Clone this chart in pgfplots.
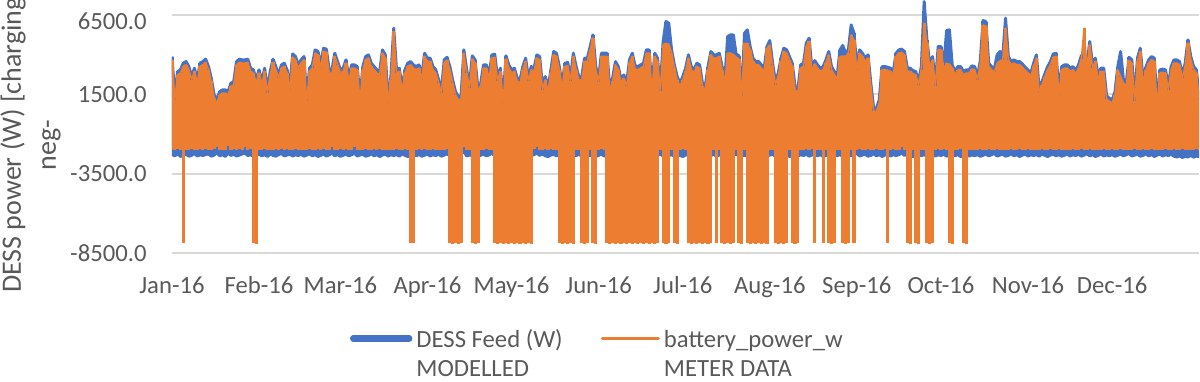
\documentclass[border=0pt]{standalone}
\usepackage{pgfplots}
\pgfplotsset{compat=1.18}
\usepackage{pgfplotstable}
\usepackage{fontspec}
\setmainfont{Carlito}
\definecolor{dessblue}{HTML}{4472C4}
\definecolor{dessorange}{HTML}{ED7D31}
\definecolor{gridgray}{HTML}{D9D9D9}
\definecolor{txtgray}{HTML}{595959}
\pgfplotstableread{
d bhi blo ohi olo
0 3875 -2300 3675 -1950
1 1355 -2380 1155 -2000
2 2930 -2250 2730 -1980
3 3035 -2420 2835 -2030
4 3455 -2330 3255 -7900
5 3560 -2280 3360 -1990
6 3245 -2400 3045 -2020
7 2615 -2350 2415 -1960
8 3140 -2220 2940 -2000
9 2405 -2390 2205 -2040
10 3455 -2310 3255 -1970
11 3560 -2360 3360 -2010
12 3710 -2300 3510 -1950
13 3245 -2250 3045 -2000
14 2510 -2400 2310 -2030
15 1460 -2330 1260 -1980
16 1145 -2180 945 -1800
17 1670 -2380 1470 -2000
18 1775 -2300 1575 -2020
19 1775 -2420 1575 -1990
20 1670 -2200 1470 -1750
21 2195 -2350 1995 -2000
22 2300 -2280 2100 -1960
23 3560 -2390 3360 -2040
24 3710 -2330 3510 -1980
25 3665 -2260 3465 -2010
26 3665 -2200 3465 -1800
27 3710 -2360 3510 -2000
28 3140 -2310 2940 -1970
29 3035 -2400 2835 -7900
30 2405 -2340 2205 -7950
31 3035 -2270 2835 -2000
32 2300 -2380 2100 -2020
33 3140 -2300 2940 -1950
34 1775 -2420 1575 -2030
35 2930 -2250 2730 -1990
36 3710 -2350 3510 -2010
37 3245 -2400 3045 -1970
38 2720 -2300 2520 -2000
39 3350 -2230 3150 -1960
40 3455 -2380 3255 -2040
41 3035 -2330 2835 -1980
42 1985 -2270 1785 -2000
43 4040 -2390 3840 -2020
44 3875 -2310 3675 -1950
45 3350 -2360 3150 -2000
46 3665 -2280 3465 -2030
47 3875 -2400 3675 -1990
48 1250 -2330 1050 -2010
49 3140 -2250 2940 -1970
50 3350 -2380 3150 -2000
51 4295 -2300 4095 -2040
52 4190 -2420 3990 -1980
53 3350 -2350 3150 -2000
54 4400 -2260 4200 -1950
55 4340 -2390 4140 -2020
56 3035 -2320 2835 -1990
57 3035 -2200 2835 -1800
58 4085 -2370 3885 -2000
59 3560 -2300 3360 -2030
60 3035 -2410 2835 -1980
61 3140 -2340 2940 -2010
62 3665 -2270 3465 -1970
63 2510 -2380 2310 -2000
64 3350 -2310 3150 -2040
65 3350 -2220 3150 -1850
66 3245 -2390 3045 -1990
67 1250 -2330 1050 -2000
68 3245 -2280 3045 -2020
69 3875 -2400 3675 -1950
70 3980 -2350 3780 -2000
71 3455 -2250 3255 -2030
72 3245 -2380 3045 -1980
73 3035 -2300 2835 -2010
74 2930 -2420 2730 -1970
75 4295 -2330 4095 -2000
76 3980 -2270 3780 -2040
77 1145 -2390 945 -1990
78 2615 -2310 2415 -2000
79 5660 -2360 5460 -2020
80 3035 -2300 2835 -1950
81 3140 -2400 2940 -2000
82 1880 -2250 1680 -2030
83 3035 -2350 2835 -1980
84 3455 -2420 3255 -2010
85 3560 -2330 3360 -7900
86 3350 -2280 3150 -7900
87 3245 -2380 3045 -2000
88 3350 -2300 3150 -1960
89 2615 -2400 2415 -2040
90 4085 -2340 3885 -1980
91 3770 -2270 3570 -2000
92 3770 -2390 3570 -2020
93 3245 -2310 3045 -1950
94 3035 -2360 2835 -2000
95 2405 -2280 2205 -2030
96 1775 -2400 1575 -1990
97 3665 -2330 3465 -2010
98 3830 -2250 3630 -1970
99 3245 -2380 3045 -7900
100 2405 -2300 2205 -7950
101 1670 -2420 1470 -7900
102 1355 -2350 1155 -7920
103 1400 -2260 1200 -7900
104 4295 -2100 4095 -1850
105 3035 -2390 2835 -2000
106 2090 -2320 1890 -2040
107 3920 -2370 3720 -7900
108 3665 -2300 3465 -7930
109 1880 -2410 1680 -7900
110 2195 -2340 1995 -1990
111 3350 -2270 3150 -2010
112 3350 -2380 3150 -1970
113 2720 -2310 2520 -2000
114 3980 -2220 3780 -2040
115 4020 -2390 3820 -7900
116 2510 -2330 2310 -7950
117 3140 -2280 2940 -7900
118 1145 -2400 945 -7920
119 3920 -2350 3720 -7900
120 3350 -2250 3150 -7940
121 3035 -2380 2835 -7900
122 3140 -2300 2940 -7910
123 2510 -2420 2310 -7900
124 2405 -2330 2205 -7950
125 3245 -2270 3045 -7900
126 3770 -2390 3570 -7920
127 2510 -2310 2310 -7900
128 3245 -2360 3045 -7930
129 3140 -2300 2940 -1950
130 3980 -2200 3780 -1850
131 3875 -2350 3675 -2000
132 1985 -2250 1785 -2030
133 2615 -2380 2415 -1980
134 1880 -2420 1680 -2010
135 3035 -2330 2835 -1970
136 4190 -2280 3990 -2000
137 4085 -2380 3885 -2040
138 3245 -2300 3045 -7900
139 2090 -2400 1890 -7950
140 3455 -2340 3255 -7900
141 3500 -2270 3300 -7920
142 2510 -2390 2310 -7900
143 4085 -2310 3885 -7940
144 3245 -2360 3045 -2000
145 2570 -2280 2370 -2020
146 2615 -2400 2415 -7900
147 3770 -2330 3570 -7930
148 3770 -2250 3570 -7900
149 4505 -2380 4305 -1990
150 5240 -2300 5050 -7900
151 3245 -2420 3045 -7920
152 2450 -2350 2250 -2000
153 4085 -2260 3885 -1970
154 4085 -2390 3885 -2040
155 4085 -2320 3885 -7900
156 1880 -2370 1680 -7950
157 2510 -2300 2310 -7900
158 3560 -2410 3360 -7920
159 3245 -2340 3045 -7900
160 2405 -2270 2205 -7930
161 2720 -2380 2520 -7900
162 2195 -2310 1995 -7910
163 3665 -2220 3465 -7900
164 4085 -2390 3885 -7950
165 3290 -2330 3090 -7900
166 3245 -2280 3045 -7920
167 3350 -2400 3150 -7900
168 3455 -2350 3255 -7940
169 4295 -2250 4095 -7900
170 4295 -2380 4095 -7910
171 1880 -2300 1680 -7900
172 4085 -2420 3885 -7950
173 3770 -2330 3570 -7900
174 1880 -2270 1680 -2000
175 4820 -2390 4620 -7900
176 6080 -2310 4700 -7930
177 5975 -2360 4650 -7900
178 4295 -2300 4095 -2020
179 3350 -2400 3150 -7900
180 2615 -2250 2415 -7920
181 2195 -2350 1995 -2000
182 2615 -2420 2415 -1960
183 3140 -2330 2940 -2040
184 3980 -2280 3780 -7900
185 3245 -2380 3045 -7950
186 3035 -2300 2835 -7900
187 3455 -2400 3255 -7920
188 3350 -2340 3150 -7900
189 2195 -2270 1995 -7930
190 1985 -2390 1785 -7900
191 3245 -2310 3045 -7910
192 4190 -2360 3990 -7900
193 3980 -2280 3780 -2000
194 3980 -2400 3780 -7900
195 4085 -2330 3885 -2010
196 3245 -2250 3045 -7900
197 2450 -2380 2250 -7940
198 5135 -2300 4085 -7900
199 5240 -2420 4085 -7920
200 5240 -2350 4000 -7900
201 4040 -2260 3840 -1990
202 3920 -2390 3720 -7900
203 1565 -2320 1365 -7950
204 5345 -2370 4700 -2000
205 5555 -2300 4700 -7900
206 4505 -2410 4305 -7920
207 3770 -2340 3570 -7900
208 3560 -2270 3360 -7930
209 3560 -2380 3360 -7900
210 3350 -2310 3150 -7910
211 3140 -2220 2940 -7900
212 4505 -2390 4400 -7950
213 4885 -2330 4600 -2000
214 3455 -2280 3255 -2030
215 2300 -2400 2100 -7900
216 2825 -2350 2625 -7920
217 3770 -2250 3570 -7900
218 4400 -2380 4200 -7940
219 4295 -2300 4095 -7900
220 3875 -2420 3675 -1990
221 3455 -2330 3255 -7900
222 1985 -2270 1785 -7930
223 1775 -2390 1575 -7900
224 3350 -2310 3150 -2000
225 3455 -2360 3255 -2040
226 4715 -2280 4515 -1980
227 5030 -2400 4830 -2010
228 3140 -2330 2940 -1970
229 3620 -2250 3420 -7900
230 3350 -2380 3150 -2000
231 3140 -2300 2940 -2020
232 3245 -2420 3045 -7900
233 3665 -2350 3465 -1990
234 4190 -2260 3990 -7900
235 3245 -2390 3045 -7920
236 2930 -2320 2730 -7900
237 2615 -2370 2415 -2000
238 4295 -2300 3875 -2030
239 4570 -2410 3900 -7900
240 4085 -2340 3885 -7950
241 4295 -2270 4095 -7900
242 5870 -2380 5240 -2000
243 5345 -2310 4900 -7900
244 3245 -2220 3045 -2010
245 4295 -2390 4095 -1970
246 4085 -2330 3885 -2000
247 3770 -2280 3570 -2040
248 3980 -2400 3780 -1980
249 2195 -2350 1995 -2000
250 620 -2250 420 -2020
251 620 -2380 420 -1950
252 1145 -2300 945 -2000
253 3245 -2420 3045 -2030
254 3245 -2330 3045 -1980
255 3200 -2270 3000 -7900
256 3140 -2390 2940 -2010
257 2930 -2310 2730 -1970
258 4085 -2360 3885 -2000
259 4295 -2300 4095 -2040
260 4340 -2200 4140 -1800
261 4190 -2350 3990 -2000
262 3140 -2250 2940 -7900
263 3140 -2380 2940 -7920
264 2990 -2420 2790 -2000
265 2930 -2330 2730 -7900
266 2300 -2280 2100 -7930
267 3245 -2380 3045 -2000
268 7340 -2300 5975 -2020
269 4925 -2400 4725 -7900
270 3350 -2340 3150 -7920
271 3875 -2270 3675 -7900
272 2195 -2390 1995 -2000
273 4505 -2310 4305 -1960
274 4505 -2360 4305 -2040
275 3290 -2280 3090 -1980
276 5515 -2400 3450 -2000
277 5555 -2330 3400 -7900
278 3350 -2250 3150 -7950
279 2930 -2380 2730 -2000
280 3245 -2300 3045 -2020
281 3245 -2420 3045 -1950
282 2930 -2350 2730 -7900
283 3035 -2260 2835 -7920
284 3035 -2390 2835 -2000
285 3290 -2320 3090 -2030
286 3245 -2370 3045 -1990
287 2615 -2300 2415 -2010
288 3620 -2410 3420 -1970
289 6140 -2340 5850 -2000
290 6080 -2270 5800 -2040
291 3455 -2380 3255 -1980
292 3245 -2310 3045 -2000
293 3080 -2220 2880 -2020
294 3980 -2390 3455 -1950
295 4190 -2330 3600 -2000
296 3875 -2280 3675 -2030
297 6290 -2400 5660 -1990
298 3875 -2350 3675 -2010
299 3560 -2250 3360 -1970
300 3665 -2380 3465 -2000
301 3560 -2300 3360 -2040
302 3560 -2420 3360 -1980
303 3410 -2330 3210 -2000
304 3200 -2270 3000 -2020
305 3035 -2390 2835 -1950
306 2825 -2310 2625 -2000
307 3455 -2360 3255 -2030
308 3980 -2300 3780 -1990
309 1775 -2400 1575 -2010
310 2300 -2250 2100 -1970
311 2785 -2350 2585 -2000
312 3245 -2420 3045 -2040
313 3560 -2330 3360 -1980
314 4040 -2280 3840 -2000
315 4085 -2380 3885 -2020
316 1670 -2300 1470 -1950
317 3245 -2400 3045 -2000
318 3350 -2340 3150 -2030
319 3350 -2270 3150 -1990
320 3140 -2390 2940 -2010
321 3245 -2310 3045 -1970
322 2990 -2360 2790 -2000
323 3350 -2280 3150 -2040
324 3920 -2400 3720 -1980
325 4085 -2330 5660 -2000
326 3350 -2250 3150 -2020
327 4820 -2380 4620 -1950
328 3350 -2300 3150 -2000
329 3770 -2420 3570 -2030
330 2615 -2350 2415 -1990
331 3140 -2260 2940 -2010
332 3140 -2390 2940 -1970
333 1400 -2320 1200 -2000
334 1250 -2370 1050 -2040
335 1145 -2300 945 -1980
336 1670 -2410 1470 -2000
337 3245 -2340 3045 -2020
338 4190 -2270 2600 -1950
339 2405 -2380 2205 -2000
340 2195 -2310 1995 -2030
341 3830 -2220 3630 -1990
342 3665 -2390 3465 -2010
343 1250 -2330 1050 -1970
344 3770 -2280 3570 -2000
345 4400 -2400 4200 -2040
346 2405 -2350 2205 -1980
347 3200 -2250 3000 -2000
348 3665 -2380 3465 -2020
349 3875 -2300 3675 -1950
350 3770 -2420 3570 -2000
351 900 -2330 700 -2030
352 3035 -2270 2835 -1990
353 3080 -2390 2880 -2010
354 3035 -2310 2835 -1970
355 1985 -2360 1785 -2000
356 3245 -2280 3045 -2040
357 3665 -2400 3465 -1980
358 3665 -2450 3465 -2000
359 3560 -2380 3360 -2020
360 2720 -2480 2520 -1950
361 3455 -2400 3255 -2000
362 4925 -2450 4725 -2030
363 3875 -2350 3675 -1990
364 3245 -2460 3045 -2010
365 3035 -2400 2835 -1970
366 1355 -2420 1155 -2000
}\dess

\begin{document}
\begin{tikzpicture}
\begin{axis}[
  at={(0,0)}, anchor=south west,
  scale only axis, width=513.6pt, height=127pt,
  xmin=0, xmax=366, ymin=-8500, ymax=7500,
  xtick={0,31,60,91,121,152,182,213,244,274,305,335},
  xticklabels={Jan-16,Feb-16,Mar-16,Apr-16,May-16,Jun-16,Jul-16,Aug-16,Sep-16,Oct-16,Nov-16,Dec-16},
  ytick={-8500,-3500,1500,6500},
  yticklabels={-8500.0,-3500.0,1500.0,\raisebox{-3.4pt}[\height][\depth]{6500.0}},
  ymajorgrids, major grid style={draw=gridgray, line width=1pt},
  axis line style={draw=none}, major tick length=0pt,
  tick label style={font=\fontsize{12.35}{15}\selectfont, text=txtgray, inner sep=0pt},
  xticklabel style={anchor=base, yshift=-20pt},
  yticklabel style={anchor=east, xshift=-12.5pt},
  clip=true,
  legend cell align=left,
  legend image code/.code={\draw[#1] (0pt,0pt) -- (28pt,0pt);},
  legend style={at={(0.1733,-0.274)}, anchor=north west, draw=none, fill=none,
    inner sep=0pt, outer sep=0pt, legend columns=2,
    font=\fontsize{12.35}{14.6}\selectfont, text=txtgray,
    /tikz/every even column/.append style={column sep=17pt}},
]
\addplot[draw=none, mark=none, forget plot,
  error bars/.cd, y dir=plus, y explicit, error mark=none,
  error bar style={draw=dessblue, line width=1.6pt}]
  table[x=d, y=blo, y error expr=\thisrow{bhi}-\thisrow{blo}] {\dess};
\addplot[dessblue, line width=1.5pt, line join=round, forget plot] table[x=d, y=bhi] {\dess};
\addplot[dessblue, line width=1.5pt, line join=round, forget plot] table[x=d, y=blo] {\dess};
\addplot[draw=none, mark=none, forget plot,
  error bars/.cd, y dir=plus, y explicit, error mark=none,
  error bar style={draw=dessorange, line width=1.6pt}]
  table[x=d, y=olo, y error expr=\thisrow{ohi}-\thisrow{olo}] {\dess};
\addplot[dessorange, line width=0.8pt, line join=round, forget plot] table[x=d, y=ohi] {\dess};
\addlegendimage{dessblue, line width=3.2pt, line cap=round}
\addlegendentry{\raisebox{0pt}[\height][0pt]{\begin{tabular}[t]{@{}l@{}}DESS Feed (W)\\MODELLED\end{tabular}}}
\addlegendimage{dessorange, line width=1.6pt, line cap=round}
\addlegendentry{\raisebox{0pt}[\height][0pt]{\begin{tabular}[t]{@{}l@{}}battery\_power\_w\\METER DATA\end{tabular}}}
\end{axis}
\node[rotate=90, align=center, font=\fontsize{14}{17.5}\selectfont, text=txtgray] at (-70.75pt,54pt) {DESS power (W) [charging\\neg-};
\pgfresetboundingbox
\useasboundingbox (-86pt,-64pt) rectangle (514pt,126.5pt);
\end{tikzpicture}
\end{document}
